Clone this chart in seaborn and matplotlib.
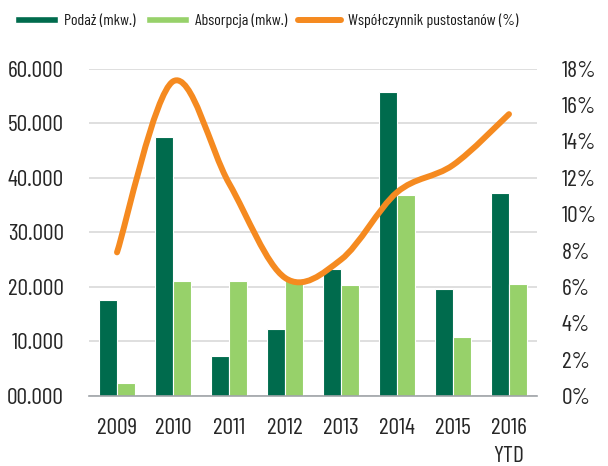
import numpy as np
import pandas as pd
import matplotlib
matplotlib.use("Agg")
import matplotlib.pyplot as plt
from matplotlib.path import Path
from matplotlib.patches import PathPatch, Patch
from matplotlib.lines import Line2D
import seaborn as sns

# dane
lata = ["2009", "2010", "2011", "2012", "2013", "2014", "2015", "2016\nYTD"]
podaz = [17600, 47400, 7400, 12300, 23300, 55700, 19600, 37200]
absorpcja = [2300, 21100, 21100, 21500, 20400, 36900, 10900, 20500]
pustostany = [7.9, 17.3, 11.7, 6.5, 7.5, 11.2, 12.7, 15.5]

lewe_ticki = [0, 10000, 20000, 30000, 40000, 50000, 60000]
lewe_etykiety = ["00.000", "10.000", "20.000", "30.000", "40.000", "50.000", "60.000"]
prawe_ticki = [0, 2, 4, 6, 8, 10, 12, 14, 16, 18]
prawe_etykiety = [f"{v}%" for v in prawe_ticki]

nazwy = ["Podaż (mkw.)", "Absorpcja (mkw.)", "Współczynnik pustostanów (%)"]
kolory = ["#006B4D", "#97D16A", "#F58A20"]

sns.set_style("white")
plt.rcParams["font.family"] = ["Barlow Condensed", "DejaVu Sans"]
plt.rcParams["text.color"] = "#1a1a1a"

df = pd.DataFrame({
    "rok": lata * 2,
    "wartosc": podaz + absorpcja,
    "seria": [nazwy[0]] * len(lata) + [nazwy[1]] * len(lata),
})

fig = plt.figure(figsize=(6.08, 4.66), dpi=100)
ax = fig.add_axes([0.1464, 0.1502, 0.7368, 0.7024])

sns.barplot(data=df, x="rok", y="wartosc", hue="seria", order=lata,
            palette=kolory[:2], width=0.66, edgecolor="white", linewidth=0.8,
            saturation=1, legend=False, ax=ax)

ax.set_ylim(0, 60000)
ax.set_yticks(lewe_ticki)
ax.set_yticklabels(lewe_etykiety, fontsize=17)
ax.tick_params(axis="x", labelsize=17, pad=16, length=0)
ax.tick_params(axis="y", pad=18, length=0)
for t in ax.get_xticklabels():
    t.set_linespacing(1.45)
ax.set_xlabel("")
ax.set_ylabel("")
ax.yaxis.grid(True, color="#D9D9D9", linewidth=1.2)
ax.set_axisbelow(True)
for s in ["top", "left", "right"]:
    ax.spines[s].set_visible(False)
ax.spines["bottom"].set_color("#A0A4A8")
ax.spines["bottom"].set_linewidth(1.2)

# oś procentowa
ax2 = ax.twinx()
ax2.set_ylim(0, 18)
ax2.set_yticks(prawe_ticki)
ax2.set_yticklabels(prawe_etykiety, fontsize=17)
ax2.tick_params(axis="y", pad=18, length=0)
for s in ax2.spines.values():
    s.set_visible(False)

# wygładzona linia (krzywe Beziera jak w Excelu)
xs = np.arange(len(pustostany), dtype=float)
ys = np.array(pustostany, dtype=float)
pts = np.column_stack([xs, ys])
verts = [pts[0]]
codes = [Path.MOVETO]
for i in range(len(pts) - 1):
    p_prev = pts[max(i - 1, 0)]
    p_next = pts[min(i + 2, len(pts) - 1)]
    c1 = pts[i] + (pts[i + 1] - p_prev) / 6
    c2 = pts[i + 1] - (p_next - pts[i]) / 6
    verts += [c1, c2, pts[i + 1]]
    codes += [Path.CURVE4] * 3
linia = PathPatch(Path(verts, codes), facecolor="none", edgecolor=kolory[2],
                  linewidth=4.3, capstyle="round", joinstyle="round")
ax2.add_patch(linia)

# legenda
uchwyty = [Patch(facecolor=kolory[0]), Patch(facecolor=kolory[1]),
           Line2D([], [], color=kolory[2], linewidth=4.3, solid_capstyle="round")]
fig.legend(uchwyty, nazwy, loc="center", bbox_to_anchor=(0.438, 0.955), ncol=3,
           frameon=False, fontsize=11.5, handlelength=2.7, handleheight=0.35,
           handletextpad=0.4, columnspacing=0.65)

fig.savefig("out.png", dpi=100)
